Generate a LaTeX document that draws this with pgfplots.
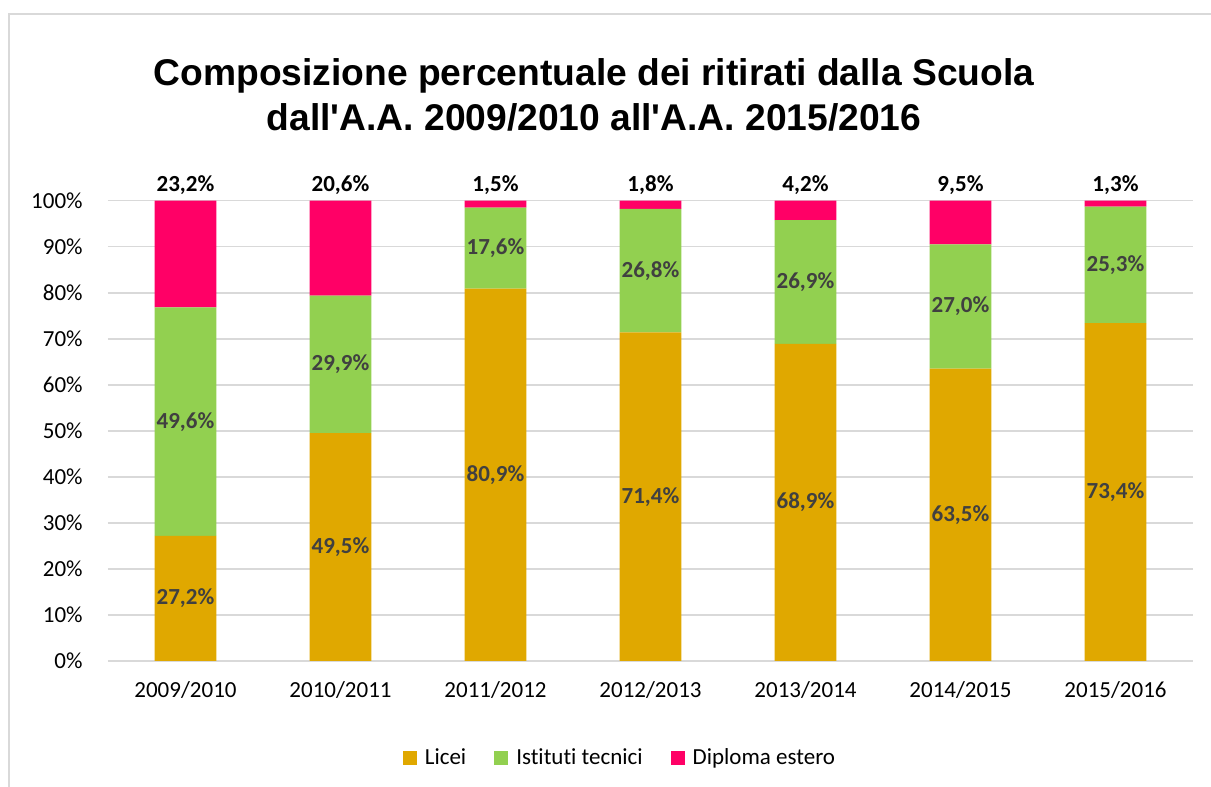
\documentclass[border=0pt]{standalone}
\usepackage{pgfplots}
\pgfplotsset{compat=1.18}
\usepackage{pgfplotstable}
\usepackage{fontspec}
\setmainfont{Carlito}[Ligatures=NoCommon]
\newfontfamily\titlefont{Liberation Sans}
\definecolor{licei}{HTML}{E0A800}
\definecolor{tecnici}{HTML}{92D050}
\definecolor{estero}{HTML}{FF0066}
\definecolor{lab}{HTML}{404040}
\definecolor{gridc}{HTML}{D9D9D9}
\pgfplotstableread{
x licei tecnici estero
0 27.2 49.6 23.2
1 49.5 29.9 20.6
2 80.9 17.6 1.5
3 71.4 26.8 1.8
4 68.9 26.9 4.2
5 63.5 27.0 9.5
6 73.4 25.3 1.3
}\data
\newcommand{\pct}{\pgfmathprintnumber[fixed,fixed zerofill,precision=1,use comma,assume math mode=true]{\pgfplotspointmeta}\%}
\begin{document}
\begin{tikzpicture}
\path[use as bounding box] (0,0) rectangle (605.5pt,393.5pt);
\draw[gridc, line width=0.75pt] (4.5pt,-20pt) rectangle (620pt,386.5pt);
\node[anchor=base, font=\titlefont\bfseries\fontsize{18.6}{22}\selectfont] at (297pt,350.5pt) {Composizione percentuale dei ritirati dalla Scuola};
\node[anchor=base, font=\titlefont\bfseries\fontsize{18.6}{22}\selectfont] at (297pt,328pt) {dall'A.A. 2009/2010 all'A.A. 2015/2016};
\begin{axis}[
  at={(54pt,63pt)}, anchor=south west,
  scale only axis, width=542.5pt, height=230.15pt,
  xmin=-0.5, xmax=6.5, ymin=0, ymax=100,
  ybar stacked, bar width=30.85pt,
  axis line style={draw=none}, major tick length=0pt,
  ymajorgrids, grid style={gridc, line width=0.75pt},
  ytick={0,10,...,100},
  yticklabels={0\%,10\%,20\%,30\%,40\%,50\%,60\%,70\%,80\%,90\%,100\%},
  xtick={0,...,6},
  xticklabels={2009/2010,2010/2011,2011/2012,2012/2013,2013/2014,2014/2015,2015/2016},
  ticklabel style={font=\fontsize{11.5}{13}\selectfont},
  yticklabel style={anchor=east, inner sep=0pt, xshift=-12.5pt},
  xticklabel style={anchor=north, inner sep=0pt, yshift=-10pt},
  legend style={draw=none, legend columns=3, at={(0.4728,-0.2107)}, anchor=center,
    font=\fontsize{11.5}{13}\selectfont,
    /tikz/every odd column/.append style={column sep=2pt},
    /tikz/every even column/.append style={column sep=12pt}},
  legend image code/.code={\fill[#1] (0pt,-3.5pt) rectangle (7pt,3.5pt);},
]
\addplot[fill=licei, draw=none] table[x=x, y=licei] {\data};
\addplot[fill=tecnici, draw=none] table[x=x, y=tecnici] {\data};
\addplot[fill=estero, draw=none] table[x=x, y=estero] {\data};
\legend{Licei, Istituti tecnici, Diploma estero}
\end{axis}
\begin{axis}[
  at={(54pt,63pt)}, anchor=south west,
  scale only axis, width=542.5pt, height=230.15pt,
  xmin=-0.5, xmax=6.5, ymin=0, ymax=100,
  hide axis, clip=false,
]
\addplot[draw=none, nodes near coords=\pct, point meta=\thisrow{licei},
  every node near coord/.append style={anchor=center, inner sep=0pt, text=lab, font=\bfseries\fontsize{11.5}{13}\selectfont}]
  table[x=x, y expr=\thisrow{licei}/2] {\data};
\addplot[draw=none, nodes near coords=\pct, point meta=\thisrow{tecnici},
  every node near coord/.append style={anchor=center, inner sep=0pt, text=lab, font=\bfseries\fontsize{11.5}{13}\selectfont}]
  table[x=x, y expr=\thisrow{licei}+\thisrow{tecnici}/2] {\data};
\addplot[draw=none, nodes near coords=\pct, point meta=\thisrow{estero},
  every node near coord/.append style={anchor=center, inner sep=0pt, yshift=8pt, text=black, font=\bfseries\fontsize{11.5}{13}\selectfont}]
  table[x=x, y expr=100] {\data};
\end{axis}
\end{tikzpicture}
\end{document}
